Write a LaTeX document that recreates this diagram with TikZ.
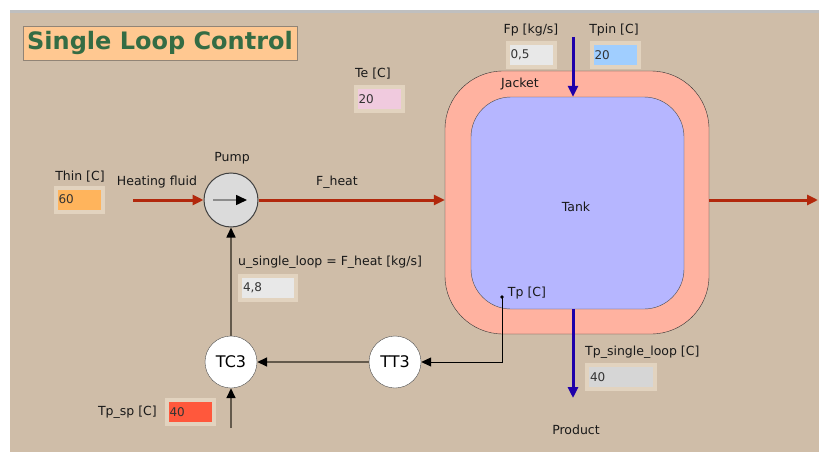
\documentclass[tikz,border=0pt]{standalone}
\usepackage{fontspec}
\setmainfont{DejaVu Sans}
\usepackage{tikz}
\usetikzlibrary{arrows.meta}
\usetikzlibrary{calc}
\usetikzlibrary{positioning}

\definecolor{panelbg}{RGB}{207,189,168}
\definecolor{framebg}{RGB}{226,211,191}
\definecolor{titlebg}{RGB}{255,200,145}
\definecolor{titlefg}{RGB}{52,108,68}
\definecolor{jacketc}{RGB}{255,178,160}
\definecolor{tankc}{RGB}{182,182,255}
\definecolor{heatred}{RGB}{178,40,12}
\definecolor{prodblue}{RGB}{30,0,170}
\definecolor{sigline}{RGB}{100,90,76}
\definecolor{fpink}{RGB}{240,202,222}
\definecolor{forange}{RGB}{255,180,92}
\definecolor{fgray}{RGB}{232,232,232}
\definecolor{fdgray}{RGB}{214,214,214}
\definecolor{fblue}{RGB}{160,206,255}
\definecolor{fred}{RGB}{255,88,60}

\tikzset{
	lbl/.style={font=\fontsize{12.5}{14}\selectfont, text=black!90, inner sep=1pt},
	valbox/.style={draw=framebg, line width=4pt, minimum height=24pt, inner xsep=3pt,
		font=\fontsize{12}{14}\selectfont, text=black!80, align=left},
	instr/.style={circle, draw=black!70, fill=white, minimum size=52pt, inner sep=0pt,
		font=\fontsize{16}{18}\selectfont},
	heatflow/.style={heatred, line width=3pt, -{Triangle[length=11pt,width=10pt]}},
	prodflow/.style={prodblue, line width=3pt, -{Triangle[length=11pt,width=10pt]}},
	sig/.style={sigline, line width=1.6pt, -{Triangle[length=10pt,width=9pt,black]}}
}

\begin{document}
\begin{tikzpicture}[x=1pt,y=-1pt]
		\useasboundingbox (0,0) rectangle (819,452);
		\fill[white] (0,0) rectangle (819,452);
		\fill[panelbg] (10,10) rectangle (819,452);
		\fill[black!25] (10,10) rectangle (819,13);

		% title
		\node[fill=titlebg, draw=panelbg!70!black, inner xsep=4pt, minimum height=34pt,
			font=\fontsize{24}{26}\selectfont\bfseries, text=titlefg] (title) at (160,43) {Single Loop Control};

		% tank and jacket
		\node[draw=black!80, fill=jacketc, rounded corners=58pt, minimum width=264pt,
			minimum height=263pt] (jacket) at (577,202.5) {};
		\node[draw=black!70, fill=tankc, rounded corners=40pt, minimum width=213pt,
			minimum height=212pt] (tank) at (577.5,203) {};
		\draw (520,84) node[lbl] (jacketlbl) {Jacket};
		\draw (576,207) node[lbl] (tanklbl) {Tank};

		% pump
		\node[circle, draw=black!75, fill=black!14, line width=1pt, minimum size=54pt] (pump) at (231,200) {};
		\draw[black!45, line width=1.6pt, -{Triangle[length=11pt,width=10pt,black]}] (213,200) -- (247,200);
		\draw (232,158) node[lbl] (pumplbl) {Pump};

		% controller and transmitter
		\node[instr] (tc3) at (231,362) {TC3};
		\node[instr] (tt3) at (395,362) {TT3};

		% heating fluid
		\coordinate (heatin) at (133,200);
		\coordinate (heatout) at (818,200);
		\draw[heatflow] (heatin) -- (pump);
		\draw[heatflow] (pump) -- (pump -| jacket.west);
		\draw[heatflow] (heatin -| jacket.east) -- (heatout);
		\draw (157,182) node[lbl] (heatlbl) {Heating fluid};
		\draw (337,182) node[lbl] (fheatlbl) {F\_heat};

		% product
		\coordinate (fpin) at (573,37);
		\coordinate (prodout) at (573,398);
		\draw[prodflow] (fpin) -- (fpin |- tank.north);
		\draw[prodflow] (fpin |- tank.south) -- (prodout);
		\draw (576,430) node[lbl] (prodlbl) {Product};

		% signals
		\coordinate (tpsens) at (502,297);
		\fill[black] (tpsens) circle (1.8pt);
		\draw[black, line width=1pt, -{Triangle[length=10pt,width=9pt]}] (tpsens) |- (tt3);
		\draw (527,293) node[lbl] (tplbl) {Tp [C]};
		\draw[sig] (tt3) -- (tc3);
		\draw[sig] (tc3) -- (pump);
		\coordinate (spin) at (231,428);
		\draw[sig] (spin) -- (tc3);

		% indicators
		\node[valbox, fill=fpink, text width=41pt] (te) at (379,99) {20};
		\draw (373,74) node[lbl] (telbl) {Te [C]};
		\node[valbox, fill=forange, text width=41pt] (thin) at (79,199.5) {60};
		\draw (80,177) node[lbl] (thinlbl) {Thin [C]};
		\node[valbox, fill=fgray, text width=41pt] (fp) at (531,55) {0,5};
		\draw (531,30) node[lbl] (fplbl) {Fp [kg/s]};
		\node[valbox, fill=fblue, text width=41pt] (tpin) at (615,55) {20};
		\draw (614,30) node[lbl] (tpinlbl) {Tpin [C]};
		\node[valbox, fill=fgray, text width=50pt] (uval) at (268,288) {4,8};
		\draw (237,262) node[lbl, anchor=west] (ulbl) {u\_single\_loop = F\_heat [kg/s]};
		\node[valbox, fill=fdgray, text width=62pt] (tpout) at (621,377) {40};
		\draw (584,352) node[lbl, anchor=west] (tpoutlbl) {Tp\_single\_loop [C]};
		\node[valbox, fill=fred, text width=41pt] (tpsp) at (190,412) {40};
		\draw (158,412) node[lbl, anchor=east] (tpsplbl) {Tp\_sp [C]};
	\end{tikzpicture}
\end{document}
